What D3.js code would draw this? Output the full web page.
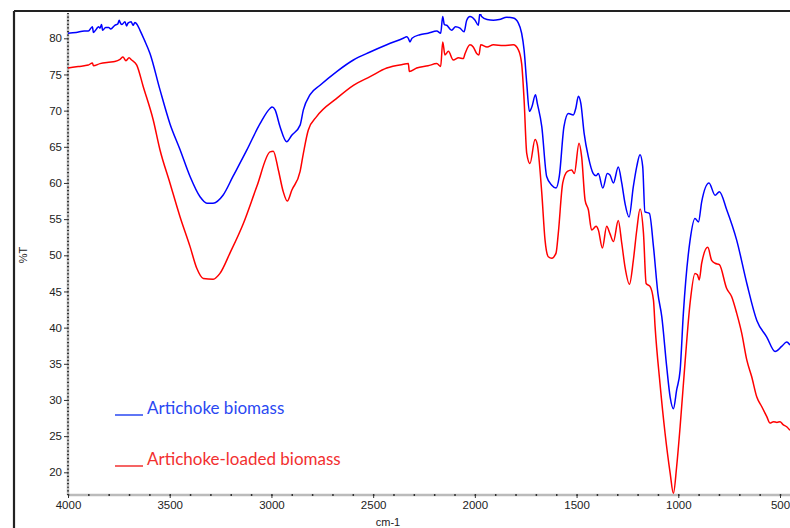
<!DOCTYPE html>
<html><head><meta charset="utf-8">
<script src="https://cdn.jsdelivr.net/npm/d3@7"></script>
<style>body{margin:0;background:#fff}svg{display:block}</style>
</head><body><svg id="c" width="790" height="528"></svg>
<script>
const seriesNames = ["Artichoke biomass", "Artichoke-loaded biomass"];
const seriesColors = ["#0000ff", "#ff0000"];
const legendColors = ["#2a48f2", "#f23030"];
const yTicks = [20, 25, 30, 35, 40, 45, 50, 55, 60, 65, 70, 75, 80];
const xTicks = [4000, 3500, 3000, 2500, 2000, 1500, 1000, 500];
const xLabel = "cm-1";
const yLabel = "%T";

const blueWn = [4000,3960,3920,3900,3880,3875,3860,3850,3843,3835,3830,3815,3800,3790,3770,3755,3748,3744,3735,3720,3712,3705,3690,3680,3671,3660,3646,3625,3597,3548,3499,3449,3400,3351,3317,3287,3238,3189,3120,3056,3007,2997,2982,2958,2925,2900,2859,2843,2810,2761,2679,2597,2515,2433,2352,2335,2327,2319,2309,2270,2230,2187,2168,2158,2150,2138,2114,2095,2073,2053,2040,2024,1999,1983,1975,1967,1940,1909,1880,1843,1811,1786,1770,1758,1745,1732,1720,1702,1693,1671,1647,1622,1601,1585,1562,1540,1516,1504,1491,1479,1463,1442,1418,1404,1393,1371,1349,1336,1319,1295,1278,1262,1242,1221,1204,1188,1175,1164,1142,1122,1100,1081,1057,1040,1024,1008,991,975,942,918,901,885,849,819,798,762,713,663,614,565,524,492,467,451];
const blueT  = [80.7,80.8,81.0,81.0,81.6,80.8,81.3,81.6,81.4,81.9,81.1,81.5,81.5,81.3,81.8,82.0,82.5,82.2,81.9,82.3,81.7,82.1,82.3,81.8,82.2,81.9,81.1,79.8,77.9,72.9,68.2,64.6,60.9,58.1,57.2,57.2,58.3,60.9,64.6,68.2,70.3,70.5,70.1,67.8,65.7,66.6,68.0,70.1,72.2,73.5,75.4,77.0,78.1,79.1,80.0,80.2,80.0,79.5,80.0,80.5,80.7,81.0,80.7,83.0,81.9,81.8,81.1,81.6,81.4,80.9,82.5,83.0,82.5,81.8,83.5,83.0,82.6,82.5,82.6,82.9,82.8,82.1,80.7,78.4,73.8,69.9,70.5,72.2,71.0,67.8,60.9,59.7,59.3,60.9,67.8,69.6,69.4,70.3,72.0,71.0,66.9,63.6,61.3,61.0,61.3,59.3,61.3,61.1,60.0,62.2,60.0,57.2,55.3,59.5,62.3,63.9,62.3,56.0,55.8,51.2,44.7,41.5,34.6,30.4,28.8,31.4,34.1,42.0,52.1,55.1,54.6,57.4,60.0,58.3,58.8,56.3,52.1,46.1,41.0,38.7,36.7,37.4,38.0,37.6];

const redWn = [4000,3950,3900,3880,3875,3843,3800,3770,3744,3730,3715,3700,3687,3662,3630,3581,3548,3499,3449,3400,3367,3335,3286,3253,3204,3138,3072,3007,2991,2966,2942,2922,2900,2859,2843,2819,2777,2679,2597,2515,2433,2352,2327,2322,2286,2230,2187,2168,2158,2147,2130,2106,2080,2057,2048,2024,2008,1991,1980,1971,1940,1909,1860,1811,1786,1770,1758,1745,1729,1704,1693,1671,1655,1639,1622,1601,1590,1568,1545,1524,1511,1488,1475,1458,1442,1426,1404,1393,1373,1352,1336,1319,1295,1278,1262,1240,1221,1204,1188,1171,1158,1139,1122,1114,1090,1065,1040,1024,1008,991,967,942,918,906,897,885,855,836,819,798,762,738,713,688,663,639,614,590,565,549,532,515,500,485,467,451];
const redT  = [75.9,76.1,76.3,76.6,76.2,76.5,76.7,76.8,77.1,77.4,76.9,77.3,77.0,76.3,73.3,68.7,64.6,60.0,55.3,51.2,48.2,46.8,46.7,47.5,50.3,54.4,59.5,64.3,64.4,61.8,58.8,57.5,59.0,61.6,64.1,67.3,69.2,71.7,73.5,74.7,75.9,76.4,76.5,75.4,75.9,76.2,76.5,76.1,79.5,77.7,78.2,77.0,77.3,77.2,77.9,79.1,78.8,77.9,77.7,79.1,78.8,79.1,79.0,79.1,78.4,76.5,71.5,64.1,62.7,66.0,65.3,58.6,52.1,49.8,49.6,50.3,53.0,60.0,61.6,61.8,61.3,65.5,63.6,57.6,56.3,53.5,54.0,53.5,51.0,54.0,53.0,51.9,54.8,51.7,48.4,46.0,49.3,53.5,56.4,53.0,46.1,45.7,43.8,40.1,32.3,25.4,19.9,17.1,20.8,26.3,35.1,43.4,47.5,47.3,46.6,48.9,51.1,49.3,48.9,48.7,45.4,44.3,42.0,39.2,35.5,33.2,30.4,29.1,27.7,26.8,27.0,26.9,27.0,26.6,26.3,25.8];

const svg = d3.select("#c");
const x = d3.scaleLinear().domain([4000, 500]).range([68, 780]);
const y = d3.scaleLinear().domain([20, 80]).range([472.3, 38.3]);
const plotTop = 14, plotBottom = 495, plotLeft = 68, plotRight = 790;

// outer frame
svg.append("line").attr("x1",14).attr("x2",14).attr("y1",11).attr("y2",528).attr("stroke","#222").attr("stroke-width",2.2);
svg.append("line").attr("x1",14).attr("x2",790).attr("y1",11).attr("y2",11).attr("stroke","#222").attr("stroke-width",2.2);

// y axis
svg.append("line").attr("x1",plotLeft).attr("x2",plotLeft).attr("y1",plotTop).attr("y2",plotBottom).attr("stroke","#bbb").attr("stroke-width",2.5);
const yMinor = d3.range(17, 83.6, 0.5);
const yMinorAxis = d3.axisLeft(y).tickValues(yMinor).tickSize(2).tickFormat("");
const gym = svg.append("g").attr("transform",`translate(${plotLeft+1},0)`).call(yMinorAxis);
gym.select(".domain").remove();
gym.selectAll("line").attr("stroke","#333").attr("stroke-width",1.2);
const yAxis = d3.axisLeft(y).tickValues(yTicks).tickSize(4).tickPadding(2).tickFormat(d3.format("d"));
const gy = svg.append("g").attr("transform",`translate(${plotLeft},0)`).call(yAxis);
gy.select(".domain").remove();
gy.selectAll("line").attr("stroke","#333");
gy.selectAll("text").attr("font-family","Liberation Sans, Arial, sans-serif").attr("font-size",11.5).attr("fill","#222");

// x axis
svg.append("line").attr("x1",plotLeft).attr("x2",plotRight).attr("y1",plotBottom).attr("y2",plotBottom).attr("stroke","#bbb").attr("stroke-width",2.5);
const xMinor = d3.range(4000, 449, -100);
const gxm = svg.append("g").attr("transform",`translate(0,${plotBottom-1})`).call(d3.axisBottom(x).tickValues(xMinor).tickSize(2).tickFormat(""));
gxm.select(".domain").remove();
gxm.selectAll("line").attr("stroke","#333").attr("stroke-width",1.5);
const gx = svg.append("g").attr("transform",`translate(0,${plotBottom})`).call(d3.axisBottom(x).tickValues(xTicks).tickSize(3).tickPadding(3).tickFormat(d3.format("d")));
gx.select(".domain").remove();
gx.selectAll("line").attr("stroke","#333");
gx.selectAll("text").attr("font-family","Liberation Sans, Arial, sans-serif").attr("font-size",11.5).attr("fill","#222");

svg.append("text").attr("x",388).attr("y",526).attr("text-anchor","middle")
  .attr("font-family","Liberation Sans, Arial, sans-serif").attr("font-size",11).attr("fill","#222").text(xLabel);
svg.append("text").attr("transform","translate(27,255) rotate(-90)").attr("text-anchor","middle")
  .attr("font-family","Liberation Sans, Arial, sans-serif").attr("font-size",11).attr("fill","#222").text(yLabel);

// curves
const series = [
  blueWn.map((w,i)=>[w, blueT[i]]),
  redWn.map((w,i)=>[w, redT[i]])
];
const line = d3.line().x(d=>x(d[0])).y(d=>y(d[1])).curve(d3.curveMonotoneX);
svg.append("defs").append("clipPath").attr("id","clip").append("rect")
  .attr("x",plotLeft).attr("y",plotTop).attr("width",plotRight-plotLeft).attr("height",plotBottom-plotTop+2);
const gc = svg.append("g").attr("clip-path","url(#clip)");
series.forEach((s,i)=>{
  gc.append("path").datum(s).attr("d",line).attr("fill","none")
    .attr("stroke",seriesColors[i]).attr("stroke-width",1.5).attr("stroke-linejoin","round");
});

// legend
const legY = [414, 465];
seriesNames.forEach((n,i)=>{
  svg.append("line").attr("x1",115).attr("x2",143).attr("y1",legY[i]+1).attr("y2",legY[i]+1)
    .attr("stroke",legendColors[i]).attr("stroke-width",1.5);
  svg.append("text").attr("x",147).attr("y",legY[i]).attr("font-family","Lato, 'Open Sans', sans-serif")
    .attr("font-size",17).attr("fill",legendColors[i]).text(n);
});
</script></body></html>
